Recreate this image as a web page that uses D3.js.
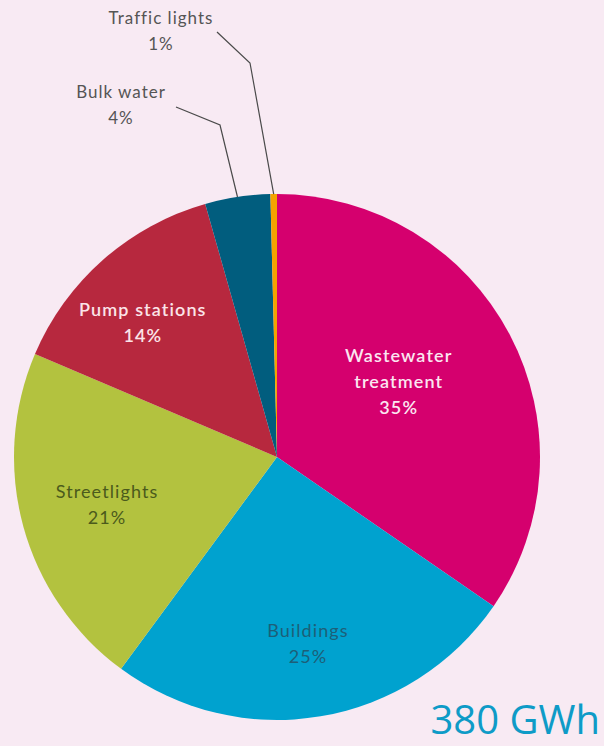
<!DOCTYPE html>
<html>
<head>
<meta charset="utf-8">
<script src="https://cdn.jsdelivr.net/npm/d3@7"></script>
<style>
  html, body { margin: 0; padding: 0; background: #f8eaf3; }
  svg { display: block; }
</style>
</head>
<body>
<div id="chart"></div>
<script>
// slice data, clockwise from 12 o'clock
var categories = ['Wastewater treatment', 'Buildings', 'Streetlights',
  'Pump stations', 'Bulk water', 'Traffic lights'];
var shares = [34.6, 25.5, 21.3, 14.2, 4.0, 0.4];
var shareLabels = ['35%', '25%', '21%', '14%', '4%', '1%'];
var totalLabel = '380 GWh';

var width = 604, height = 746;
var cx = 277, cy = 457, radius = 263;

var colors = d3.scaleOrdinal()
  .domain(categories)
  .range(['#d5006e', '#00a2cf', '#b3c23f', '#b7283e', '#015d7e', '#f4a300']);

// how each label is drawn (r = fraction of radius, nudge = small shift in px)
var labelStyle = {
  'Wastewater treatment': { lines: ['Wastewater', 'treatment'], r: 0.54, nudge: [-4, -9], fill: '#fbe6f1', weight: 600 },
  'Buildings': { lines: ['Buildings'], r: 0.71, nudge: [0, 3], fill: '#1d5f78', weight: 400 },
  'Streetlights': { lines: ['Streetlights'], r: 0.67, nudge: [0, 1], fill: '#4b5a1c', weight: 400 },
  'Pump stations': { lines: ['Pump stations'], r: 0.72, nudge: [-9, 8], fill: '#fbe4e8', weight: 600 },
  'Bulk water': { outside: true, text: [121, 92], elbow: [220, 125], from: [176, 107] },
  'Traffic lights': { outside: true, text: [161, 18], elbow: [250, 63], from: [217, 32] }
};

var svg = d3.select('#chart').append('svg')
  .attr('width', width)
  .attr('height', height);

svg.append('rect')
  .attr('width', width)
  .attr('height', height)
  .attr('fill', '#f8eaf3');

var slices = categories.map(function(c, i) {
  return { name: c, value: shares[i], label: shareLabels[i] };
});

var pie = d3.pie()
  .sort(null)
  .value(function(d) { return d.value; });

var arcs = pie(slices);

var arc = d3.arc()
  .innerRadius(0)
  .outerRadius(radius);

var root = svg.append('g')
  .attr('transform', 'translate(' + cx + ',' + cy + ')');

root.selectAll('path.slice')
  .data(arcs)
  .enter().append('path')
  .attr('class', 'slice')
  .attr('d', arc)
  .attr('fill', function(d) { return colors(d.data.name); });

// labels inside the slices
var inside = arcs.filter(function(d) { return !labelStyle[d.data.name].outside; });

inside.forEach(function(d) {
  var st = labelStyle[d.data.name];
  var labelArc = d3.arc().innerRadius(radius * st.r).outerRadius(radius * st.r);
  var c = labelArc.centroid(d);
  c = [c[0] + st.nudge[0], c[1] + st.nudge[1]];
  var lines = st.lines.concat([d.data.label]);
  var lineH = 26;
  var y0 = c[1] - (lines.length - 1) * lineH / 2;

  var t = root.append('text')
    .attr('text-anchor', 'middle')
    .attr('font-family', 'Lato, "Open Sans", sans-serif')
    .attr('font-size', 18)
    .attr('font-weight', st.weight)
    .attr('letter-spacing', 1.1)
    .attr('fill', st.fill);

  lines.forEach(function(line, i) {
    t.append('tspan')
      .attr('x', c[0])
      .attr('y', y0 + i * lineH)
      .attr('dy', '0.35em')
      .text(line);
  });
});

// small slices get an outside label with a leader line
var outside = arcs.filter(function(d) { return labelStyle[d.data.name].outside; });

outside.forEach(function(d) {
  var st = labelStyle[d.data.name];
  var edgeArc = d3.arc().innerRadius(radius).outerRadius(radius);
  var e = edgeArc.centroid(d);

  svg.append('polyline')
    .attr('points', [st.from, st.elbow, [e[0] + cx, e[1] + cy]].join(' '))
    .attr('fill', 'none')
    .attr('stroke', '#4a4a4a')
    .attr('stroke-width', 1.2);

  var t = svg.append('text')
    .attr('text-anchor', 'middle')
    .attr('font-family', 'Lato, "Open Sans", sans-serif')
    .attr('font-size', 17)
    .attr('letter-spacing', 1)
    .attr('fill', '#555555');

  [d.data.name, d.data.label].forEach(function(line, i) {
    t.append('tspan')
      .attr('x', st.text[0])
      .attr('y', st.text[1] + i * 26)
      .attr('dy', '0.35em')
      .text(line);
  });
});

svg.append('text')
  .attr('x', 600)
  .attr('y', 734)
  .attr('text-anchor', 'end')
  .attr('font-family', '"Open Sans", sans-serif')
  .attr('font-size', 40)
  .attr('fill', '#0e9bc7')
  .text(totalLabel);
</script>
</body>
</html>
